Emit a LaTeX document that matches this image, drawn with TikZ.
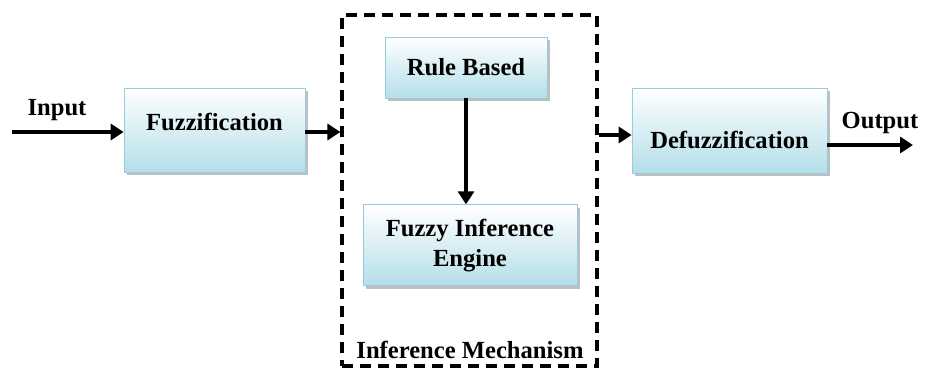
\documentclass[tikz,border=0pt]{standalone}
\usepackage{fontspec}
\setmainfont{Liberation Serif}
\usepackage{xcolor}
\usetikzlibrary{positioning, fit, arrows.meta, shadows}
\definecolor{boxcyan}{RGB}{180,222,233}
\definecolor{boxedge}{RGB}{150,205,222}
\tikzstyle{block} = [rectangle,
text centered,
draw=boxedge,
top color=white,
bottom color=boxcyan,
drop shadow={shadow xshift=0.06cm, shadow yshift=-0.06cm, fill=black!50}]
\tikzstyle{frame} = [draw=black, dash pattern=on 0.22cm off 0.14cm,
line width=1.8pt]
\tikzstyle{arrow} = [line width=2.3pt, -{Triangle[length=0.26cm, width=0.32cm]}]

\begin{document}
\begin{tikzpicture}[font=\fontsize{14}{17}\selectfont\bfseries]
\useasboundingbox (0,0) rectangle (18.64,-7.36);

%-----------fuzzification
\node (fuzz) [block, minimum width=3.62cm, minimum height=1.68cm]
  at (4.29,-2.6) {\raisebox{0.32cm}{Fuzzification}};
%-----------rule base
\node (rule) [block, minimum width=3.24cm, minimum height=1.22cm]
  at (9.32,-1.35) {Rule Based};
%-----------inference engine
\node (engine) [block, minimum width=4.28cm, minimum height=1.62cm,
  align=center, below=2.12cm of rule, xshift=0.08cm]
  {Fuzzy Inference\\Engine};
\node (mech) [below=0.98cm of engine] {Inference Mechanism};
%-----------the dashed frame
\node (frame) [frame, fit={(6.84,-0.3) (11.94,-7.32)}, inner sep=0pt] {};
%-----------defuzzification
\node (defuzz) [block, minimum width=3.9cm, minimum height=1.7cm]
  at (14.59,-2.61)
  {\raisebox{-0.38cm}[\height][\dimexpr\depth+0.38cm\relax]{Defuzzification}};

%-----------in and out
\coordinate (in) at (0.24,-2.64);
\coordinate (out) at (18.26,-2.9);
\node (input) at (1.14,-2.2) {Input};
\node (output) at (17.6,-2.46) {Output};

\draw [arrow] (in) -- (in -| fuzz.west);
\draw [arrow] (fuzz.east |- in) -- (frame.west |- in);
\draw [arrow] (rule) -- (rule |- engine.north);
\draw [arrow] ([yshift=-0.06cm]frame.east |- in) -- ([yshift=-0.06cm]defuzz.west |- in);
\draw [arrow] (defuzz.east |- out) -- (out);

\end{tikzpicture}
\end{document}
